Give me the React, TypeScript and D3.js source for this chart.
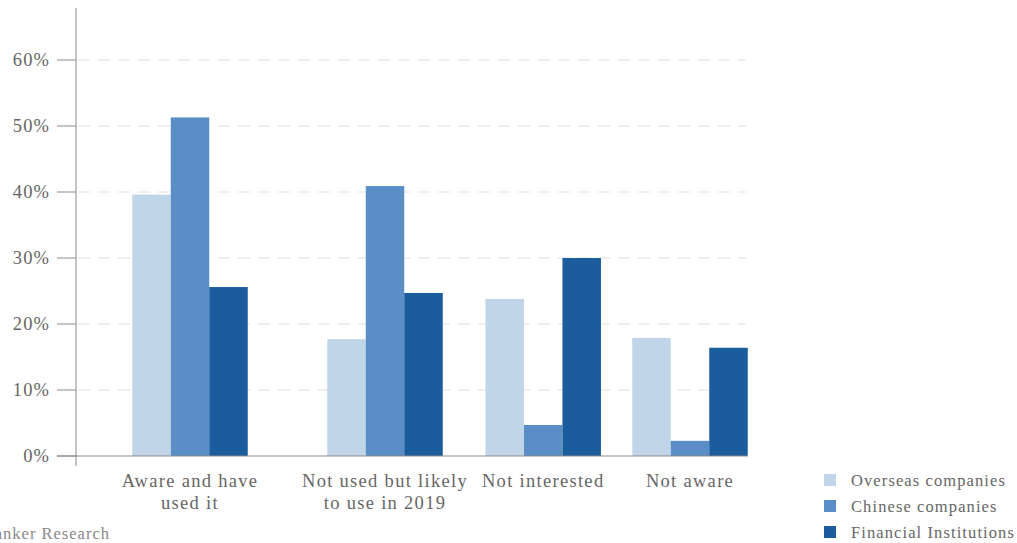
import React from "react";
import * as d3 from "d3";

const categories = [
  "Aware and have used it",
  "Not used but likely to use in 2019",
  "Not interested",
  "Not aware",
];
const categoryLines = [
  ["Aware and have", "used it"],
  ["Not used but likely", "to use in 2019"],
  ["Not interested"],
  ["Not aware"],
];
const seriesNames = ["Overseas companies", "Chinese companies", "Financial Institutions"];
const overseas = [39.6, 17.7, 23.8, 17.9];
const chinese = [51.3, 40.9, 4.7, 2.3];
const financial = [25.6, 24.7, 30.0, 16.4];
const yTicks = [0, 10, 20, 30, 40, 50, 60];
const sourceText = "Source: The Asian Banker Research";

const colors = ["#c0d5e7", "#5b8dc6", "#1b5c9d"];
const W = 1017;
const H = 543;

export default function App() {
  const series = [overseas, chinese, financial];
  const y = d3.scaleLinear().domain([0, 60]).range([456, 60]);
  // irregular group centres as in the original layout
  const xCenter = d3.scaleOrdinal<string, number>().domain(categories).range([190, 385, 543.2, 690]);
  const barW = 38.5;
  const inner = d3.scaleBand<number>().domain([0, 1, 2]).range([-barW * 1.5, barW * 1.5]).padding(0);
  const font = "'Liberation Serif', 'Times New Roman', serif";
  const textColor = "#666";

  return (
    <svg width={W} height={H} style={{ position: "absolute", left: 0, top: 0, background: "#fff" }}>
      {/* gridlines */}
      {yTicks.filter((t) => t > 0).map((t) => (
        <line key={"g" + t} x1={78} x2={746} y1={y(t)} y2={y(t)} stroke="#e0e0e0" strokeWidth={1} strokeDasharray="12,8" />
      ))}
      {/* bars */}
      {categories.map((c, ci) =>
        series.map((s, si) => (
          <rect
            key={c + si}
            x={xCenter(c) + (inner(si) as number)}
            width={inner.bandwidth()}
            y={y(s[ci])}
            height={y(0) - y(s[ci])}
            fill={colors[si]}
          />
        ))
      )}
      {/* axes */}
      <line x1={76} x2={76} y1={8} y2={466} stroke="#8a8a8a" strokeWidth={1} />
      <line x1={57} x2={748} y1={y(0)} y2={y(0)} stroke="#8a8a8a" strokeWidth={1} />
      {yTicks.map((t) => (
        <g key={"t" + t}>
          <line x1={57} x2={76} y1={y(t)} y2={y(t)} stroke="#8a8a8a" strokeWidth={1} />
          <text x={50} y={y(t)} dy="0.35em" textAnchor="end" fontFamily={font} fontSize={18.5} fill={textColor} letterSpacing={1.1}>
            {t + "%"}
          </text>
        </g>
      ))}
      {/* category labels */}
      {categories.map((c, ci) => (
        <text key={"c" + c} textAnchor="middle" fontFamily={font} fontSize={18.5} fill={textColor} letterSpacing={1.3}>
          {categoryLines[ci].map((ln, li) => (
            <tspan key={li} x={xCenter(c)} y={487 + li * 22}>
              {ln}
            </tspan>
          ))}
        </text>
      ))}
      {/* source */}
      <text x={110} y={539} textAnchor="end" fontFamily={font} fontSize={16.5} fill="#888" letterSpacing={1}>
        {sourceText}
      </text>
      {/* legend */}
      {seriesNames.map((n, i) => (
        <g key={n} transform={`translate(824, ${474 + i * 26})`}>
          <rect x={0} y={0} width={12} height={12} fill={colors[i]} />
          <text x={27} y={6} dy="0.35em" fontFamily={font} fontSize={16.5} fill={textColor} letterSpacing={1.1}>
            {n}
          </text>
        </g>
      ))}
    </svg>
  );
}
